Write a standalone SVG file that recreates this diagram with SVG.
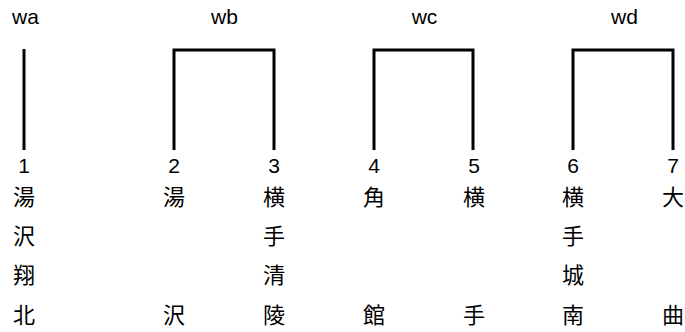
<svg xmlns="http://www.w3.org/2000/svg" width="685" height="332" viewBox="0 0 685 332">
<style>
.lbl{font-family:"Liberation Sans","Noto Sans",sans-serif;font-size:21px;fill:#000;text-anchor:middle}
.num{font-family:"Liberation Sans","Noto Sans",sans-serif;font-size:21px;fill:#000;text-anchor:middle}
.cj{font-family:"Noto Sans CJK JP","Noto Sans CJK SC",sans-serif;font-size:22px;fill:#000;text-anchor:middle}
.ln{fill:none;stroke:#000;stroke-width:3}
</style>
<rect width="685" height="332" fill="#fff"/>
<g id="wa"><text class="lbl" x="25.5" y="24">wa</text></g>
<g id="wb"><text class="lbl" x="224.5" y="24">wb</text></g>
<g id="wc"><text class="lbl" x="424.5" y="24">wc</text></g>
<g id="wd"><text class="lbl" x="624.5" y="24">wd</text></g>
<g id="connectors">
<path class="ln" d="M24,49 V150"/>
<path class="ln" d="M174,150 V50 H274 V150"/>
<path class="ln" d="M374,150 V50 H473 V150"/>
<path class="ln" d="M573,150 V50 H673 V150"/>
</g>
<g id="n1"><text class="num" x="24" y="173">1</text><text class="cj" x="24" y="205">湯</text><text class="cj" x="24" y="244">沢</text><text class="cj" x="24" y="283">翔</text><text class="cj" x="24" y="323">北</text></g>
<g id="n2"><text class="num" x="174" y="173">2</text><text class="cj" x="174" y="205">湯</text><text class="cj" x="174" y="323">沢</text></g>
<g id="n3"><text class="num" x="274" y="173">3</text><text class="cj" x="274" y="205">横</text><text class="cj" x="274" y="244">手</text><text class="cj" x="274" y="283">清</text><text class="cj" x="274" y="323">陵</text></g>
<g id="n4"><text class="num" x="374" y="173">4</text><text class="cj" x="374" y="205">角</text><text class="cj" x="374" y="323">館</text></g>
<g id="n5"><text class="num" x="474" y="173">5</text><text class="cj" x="474" y="205">横</text><text class="cj" x="474" y="323">手</text></g>
<g id="n6"><text class="num" x="573" y="173">6</text><text class="cj" x="573" y="205">横</text><text class="cj" x="573" y="244">手</text><text class="cj" x="573" y="283">城</text><text class="cj" x="573" y="323">南</text></g>
<g id="n7"><text class="num" x="673" y="173">7</text><text class="cj" x="673" y="205">大</text><text class="cj" x="673" y="323">曲</text></g>
</svg>
